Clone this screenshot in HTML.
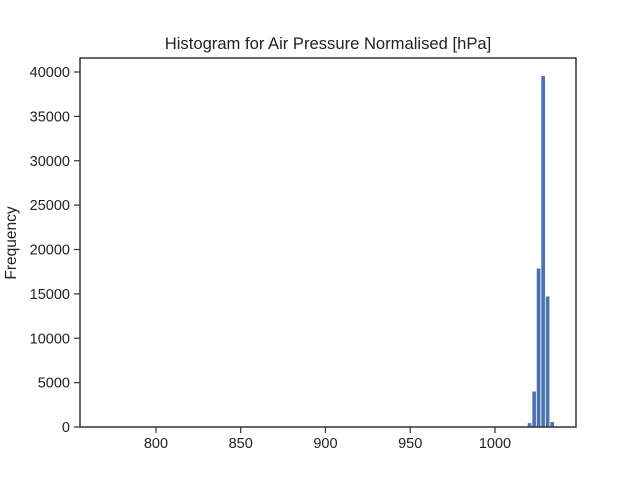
<!DOCTYPE html>
<html><head><meta charset="utf-8"><style>
body{margin:0;background:#fff}
svg{font-family:"Liberation Sans",Arial,sans-serif;display:block}
</style></head><body>
<svg id="chart" width="640" height="480">
<text x="328" y="49" font-size="16.6" text-anchor="middle" fill="#222">Histogram for Air Pressure Normalised [hPa]</text>
<text transform="translate(16,243) rotate(-90)" font-size="15.5" text-anchor="middle" fill="#222">Frequency</text>
<g id="bars"></g>
<g id="ticks"></g>
<rect x="80" y="58" width="496" height="369" fill="none" stroke="#333" stroke-width="1.5"/>
</svg>
<script>
const binStarts = [1019.1, 1021.8, 1024.4, 1027.1, 1029.7, 1032.4];
const counts = [480, 4050, 17900, 39600, 14750, 600];
const binWidth = 2.66;
const xTicks = [800, 850, 900, 950, 1000];
const yTicks = [0, 5000, 10000, 15000, 20000, 25000, 30000, 35000, 40000];
const X0=80, X1=576, Y0=427;
const xMin=755.2, xMax=1047.8;
function xs(v){return X0+(v-xMin)/(xMax-xMin)*(X1-X0);}
function ys(v){return Y0-v*(355/40000);}
const NS="http://www.w3.org/2000/svg";
const bars=document.getElementById('bars'), ticks=document.getElementById('ticks');
binStarts.forEach((b,i)=>{
  const r=document.createElementNS(NS,'rect');
  const x=xs(b), w=xs(b+binWidth)-x;
  r.setAttribute('x',x);r.setAttribute('width',w);
  r.setAttribute('y',ys(counts[i]));r.setAttribute('height',Y0-ys(counts[i]));
  r.setAttribute('fill','#4c72b0');r.setAttribute('stroke','#fff');r.setAttribute('stroke-width','0.8');
  
  
  bars.appendChild(r);
});
xTicks.forEach(t=>{
  const x=xs(t);
  const l=document.createElementNS(NS,'line');
  l.setAttribute('x1',x);l.setAttribute('x2',x);l.setAttribute('y1',Y0);l.setAttribute('y2',Y0+6);
  l.setAttribute('stroke','#333');l.setAttribute('stroke-width','1.2');
  
  
  ticks.appendChild(l);
  const tx=document.createElementNS(NS,'text');
  tx.setAttribute('x',x);tx.setAttribute('y',Y0+21);tx.setAttribute('font-size','14.5');
  tx.setAttribute('text-anchor','middle');tx.setAttribute('fill','#222');
  tx.textContent=t;
  
  
  ticks.appendChild(tx);
});
yTicks.forEach(t=>{
  const y=ys(t);
  const l=document.createElementNS(NS,'line');
  l.setAttribute('x1',X0-6);l.setAttribute('x2',X0);l.setAttribute('y1',y);l.setAttribute('y2',y);
  l.setAttribute('stroke','#333');l.setAttribute('stroke-width','1.2');
  
  
  ticks.appendChild(l);
  const tx=document.createElementNS(NS,'text');
  tx.setAttribute('x',X0-10);tx.setAttribute('y',y+5);tx.setAttribute('font-size','14.5');
  tx.setAttribute('text-anchor','end');tx.setAttribute('fill','#222');
  tx.textContent=t;
  
  
  ticks.appendChild(tx);
});
</script>
</body></html>
